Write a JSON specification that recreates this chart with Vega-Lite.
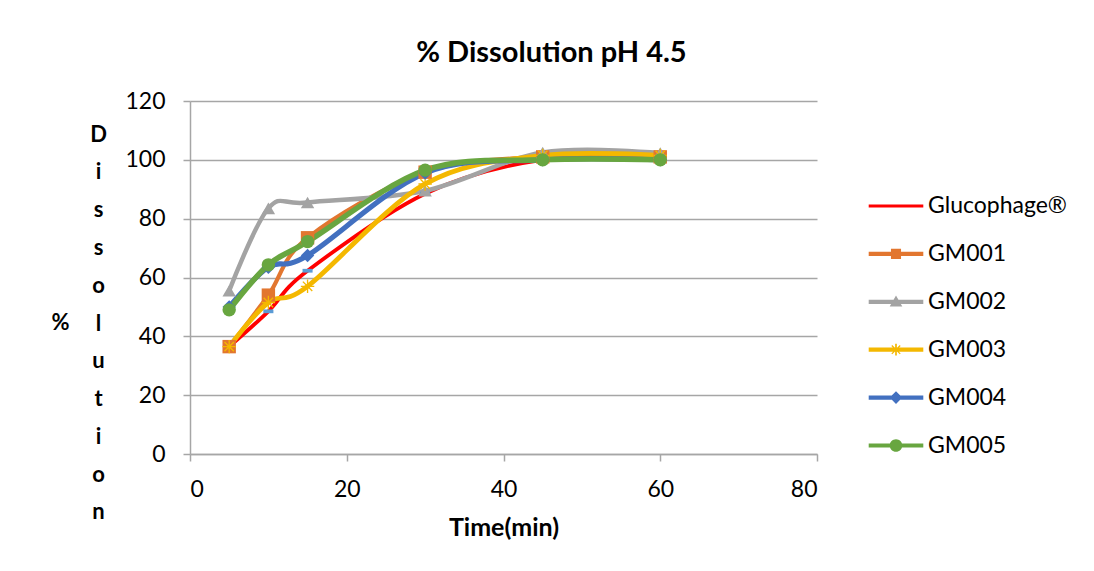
{
  "$schema": "https://vega.github.io/schema/vega-lite/v6.json",
  "width": 627,
  "height": 353,
  "autosize": {"type": "none"},
  "padding": {"left": 190, "top": 101, "right": 277, "bottom": 117},
  "background": "white",
  "title": {"text": "% Dissolution pH 4.5", "font": "Lato", "fontSize": 29, "fontWeight": "bold", "color": "black", "anchor": "middle", "dx": 48, "offset": 22},
  "data": {"values": [
    {"series": "Glucophage®", "time": 5, "value": 36.5},
    {"series": "Glucophage®", "time": 10, "value": 48.5},
    {"series": "Glucophage®", "time": 15, "value": 62.3},
    {"series": "Glucophage®", "time": 30, "value": 88.5},
    {"series": "Glucophage®", "time": 45, "value": 100},
    {"series": "Glucophage®", "time": 60, "value": 100},
    {"series": "GM001", "time": 5, "value": 36.5},
    {"series": "GM001", "time": 10, "value": 54},
    {"series": "GM001", "time": 15, "value": 73.5},
    {"series": "GM001", "time": 30, "value": 95.8},
    {"series": "GM001", "time": 45, "value": 101},
    {"series": "GM001", "time": 60, "value": 101},
    {"series": "GM002", "time": 5, "value": 55.5},
    {"series": "GM002", "time": 10, "value": 83.5},
    {"series": "GM002", "time": 15, "value": 85.5},
    {"series": "GM002", "time": 30, "value": 89.5},
    {"series": "GM002", "time": 45, "value": 102.5},
    {"series": "GM002", "time": 60, "value": 102.3},
    {"series": "GM003", "time": 5, "value": 36.5},
    {"series": "GM003", "time": 10, "value": 51.5},
    {"series": "GM003", "time": 15, "value": 57},
    {"series": "GM003", "time": 30, "value": 91.8},
    {"series": "GM003", "time": 45, "value": 101.5},
    {"series": "GM003", "time": 60, "value": 101.5},
    {"series": "GM004", "time": 5, "value": 50},
    {"series": "GM004", "time": 10, "value": 63.5},
    {"series": "GM004", "time": 15, "value": 67.5},
    {"series": "GM004", "time": 30, "value": 95.5},
    {"series": "GM004", "time": 45, "value": 100},
    {"series": "GM004", "time": 60, "value": 100},
    {"series": "GM005", "time": 5, "value": 49},
    {"series": "GM005", "time": 10, "value": 64.3},
    {"series": "GM005", "time": 15, "value": 72.2},
    {"series": "GM005", "time": 30, "value": 96.5},
    {"series": "GM005", "time": 45, "value": 100},
    {"series": "GM005", "time": 60, "value": 100}
  ]},
  "encoding": {
    "x": {
      "field": "time", "type": "quantitative",
      "scale": {"domain": [0, 80], "nice": false},
      "axis": {
        "title": "Time(min)", "values": [0, 20, 40, 60, 80], "grid": false,
        "titleFont": "Lato", "titleFontSize": 25, "titleFontWeight": "bold", "titleColor": "black",
        "titleBaseline": "middle", "titleY": 73,
        "labelFont": "Lato", "labelFontSize": 23, "labelColor": "black", "labelPadding": 17,
        "tickSize": 7, "tickColor": "#a6a6a6", "tickWidth": 1.5,
        "domainColor": "#a6a6a6", "domainWidth": 1.5
      }
    }
  },
  "layer": [
    {
      "mark": {"type": "line", "interpolate": "cardinal", "tension": 0},
      "encoding": {
        "y": {
          "field": "value", "type": "quantitative",
          "scale": {"domain": [0, 120], "nice": false},
          "axis": {
            "title": ["D", "i", "s", "s", "o", "l", "u", "t", "i", "o", "n"],
            "titleAngle": 0, "titleAlign": "center", "titleBaseline": "middle",
            "titleX": -92, "titleY": 33, "titleLineHeight": 37.8,
            "titleFont": "Lato", "titleFontSize": 22, "titleFontWeight": "bold", "titleColor": "black",
            "values": [0, 20, 40, 60, 80, 100, 120],
            "labelFont": "Lato", "labelFontSize": 23, "labelColor": "black", "labelPadding": 18,
            "tickSize": 7, "tickColor": "#a6a6a6", "tickWidth": 1.5,
            "domainColor": "#a6a6a6", "domainWidth": 1.5,
            "grid": true, "gridColor": "#a6a6a6", "gridWidth": 1.5
          }
        },
        "color": {
          "field": "series", "type": "nominal",
          "scale": {
            "domain": ["Glucophage®", "GM001", "GM002", "GM003", "GM004", "GM005"],
            "range": ["#FF0000", "#E2762F", "#A3A3A3", "#F4B800", "#4270C0", "#68A640"]
          },
          "legend": null
        },
        "strokeWidth": {
          "field": "series", "type": "ordinal",
          "scale": {
            "domain": ["Glucophage®", "GM001", "GM002", "GM003", "GM004", "GM005"],
            "range": [3.8, 5.5, 5.5, 5.5, 5.5, 5.5]
          },
          "legend": null
        }
      }
    },
    {
      "mark": {"type": "point", "filled": true, "opacity": 1, "size": 180, "strokeWidth": 0},
      "encoding": {
        "y": {
          "field": "value", "type": "quantitative",
          "scale": {"domain": [0, 120], "nice": false},
          "axis": {
            "orient": "left", "title": "%", "titleAngle": 0, "titleAlign": "center", "titleBaseline": "middle",
            "titleX": -130, "titleY": 221,
            "titleFont": "Lato", "titleFontSize": 22, "titleFontWeight": "bold", "titleColor": "black",
            "labels": false, "ticks": false, "domain": false, "grid": false
          }
        },
        "fill": {
          "field": "series", "type": "nominal",
          "scale": {
            "domain": ["Glucophage®", "GM001", "GM002", "GM003", "GM004", "GM005"],
            "range": ["#5B9BD5", "#E2762F", "#A3A3A3", "#F4B800", "#4270C0", "#68A640"]
          },
          "legend": null
        },
        "shape": {
          "field": "series", "type": "nominal",
          "scale": {
            "domain": ["Glucophage®", "GM001", "GM002", "GM003", "GM004", "GM005"],
            "range": [
              "M-0.75,-0.28H0.75V0.28H-0.75Z",
              "square",
              "triangle-up",
              "M-0.1,-1H0.1V1H-0.1Z M-1,-0.1H1V0.1H-1Z M-0.629,-0.771L0.771,0.629L0.629,0.771L-0.771,-0.629Z M-0.629,0.771L-0.771,0.629L0.629,-0.771L0.771,-0.629Z",
              "diamond",
              "circle"
            ]
          },
          "legend": null
        }
      }
    },
    {
      "mark": {"type": "point", "filled": true, "opacity": 0, "strokeWidth": 0},
      "encoding": {
        "y": {"field": "value", "type": "quantitative", "scale": {"domain": [0, 120], "nice": false}, "axis": null},
        "color": {
          "field": "series", "type": "nominal",
          "scale": {
            "domain": ["Glucophage®", "GM001", "GM002", "GM003", "GM004", "GM005"],
            "range": ["#FF0000", "#E2762F", "#A3A3A3", "#F4B800", "#4270C0", "#68A640"]
          },
          "legend": {
            "orient": "none", "legendX": 685, "legendY": 84, "title": null, "padding": 0,
            "symbolSize": 1764, "symbolStrokeWidth": 0, "symbolOpacity": 1,
            "labelFont": "Lato", "labelFontSize": 23, "labelColor": "black", "labelOffset": 11,
            "rowPadding": 14.9, "labelLimit": 300
          }
        },
        "shape": {
          "field": "series", "type": "nominal",
          "scale": {
            "domain": ["Glucophage®", "GM001", "GM002", "GM003", "GM004", "GM005"],
            "range": [
              "M-1.3,-0.07H1.3V0.07H-1.3Z",
              "M-1.3,-0.1H1.3V0.1H-1.3Z M-0.24,-0.24H0.24V0.24H-0.24Z",
              "M-1.3,-0.1H1.3V0.1H-1.3Z M0,-0.3L0.3,0.22H-0.3Z",
              "M-1.3,-0.1H1.3V0.1H-1.3Z M-0.04,-0.28H0.04V0.28H-0.04Z M-0.179,-0.221L0.221,0.179L0.179,0.221L-0.221,-0.179Z M-0.179,0.221L-0.221,0.179L0.179,-0.221L0.221,-0.179Z",
              "M-1.3,-0.1H1.3V0.1H-1.3Z M0,-0.3L0.3,0L0,0.3L-0.3,0Z",
              "M-1.3,-0.1H1.3V0.1H-1.3Z M-0.3,0A0.3,0.3,0,1,1,0.3,0A0.3,0.3,0,1,1,-0.3,0Z"
            ]
          },
          "legend": {
            "orient": "none", "legendX": 685, "legendY": 84, "title": null, "padding": 0,
            "symbolSize": 1764, "symbolStrokeWidth": 0, "symbolOpacity": 1,
            "labelFont": "Lato", "labelFontSize": 23, "labelColor": "black", "labelOffset": 11,
            "rowPadding": 14.9, "labelLimit": 300
          }
        }
      }
    }
  ],
  "resolve": {
    "scale": {"color": "independent", "shape": "independent", "fill": "independent", "strokeWidth": "independent"},
    "axis": {"y": "independent"}
  },
  "config": {"view": {"stroke": null}}
}
